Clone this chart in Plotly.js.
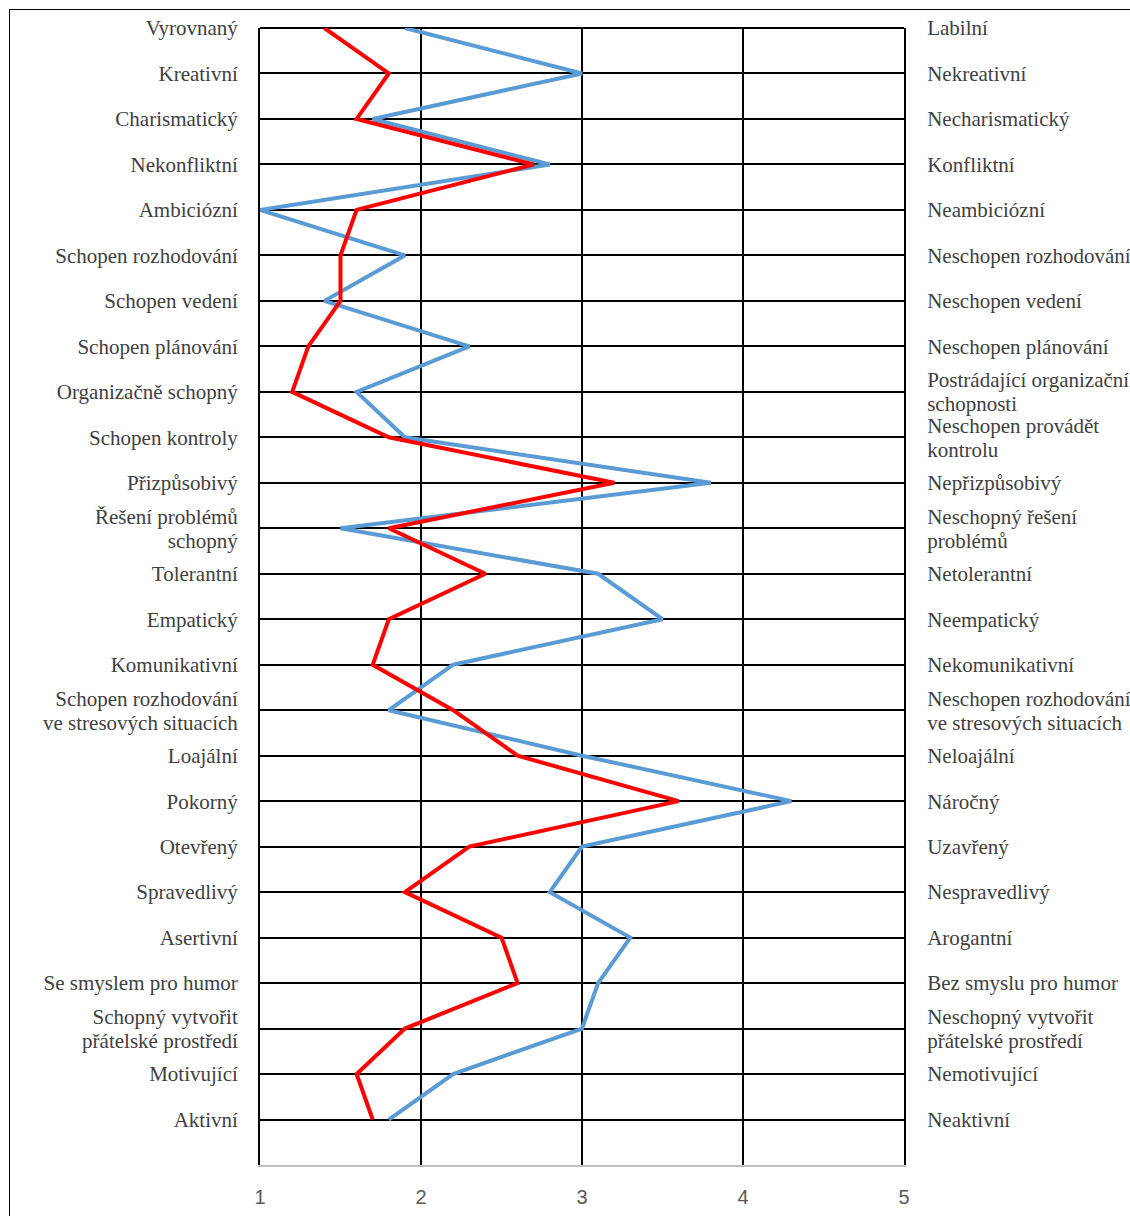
<!DOCTYPE html>
<html>
<head>
<meta charset="utf-8">
<script src="https://cdn.plot.ly/plotly-3.0.1.min.js"></script>
<style>
  html, body { margin: 0; padding: 0; width: 1130px; height: 1216px; overflow: hidden; background: #fff; }
  #frame { position: absolute; left: 9px; top: 9px; width: 1300px; height: 1400px; border: 1.5px solid #000; box-sizing: border-box; }
  #chart { position: absolute; left: 0; top: 0; width: 1130px; height: 1216px; }
</style>
</head>
<body>
<div id="frame"></div>
<div id="chart"></div>
<script>
const labelsLeft = ["Vyrovnaný","Kreativní","Charismatický","Nekonfliktní","Ambiciózní","Schopen rozhodování","Schopen vedení","Schopen plánování","Organizačně schopný","Schopen kontroly","Přizpůsobivý","Řešení problémů<br>schopný","Tolerantní","Empatický","Komunikativní","Schopen rozhodování<br>ve stresových situacích","Loajální","Pokorný","Otevřený","Spravedlivý","Asertivní","Se smyslem pro humor","Schopný vytvořit<br>přátelské prostředí","Motivující","Aktivní"];
const labelsRight = ["Labilní","Nekreativní","Necharismatický","Konfliktní","Neambiciózní","Neschopen rozhodování","Neschopen vedení","Neschopen plánování","Postrádající organizační<br>schopnosti","Neschopen provádět<br>kontrolu","Nepřizpůsobivý","Neschopný řešení<br>problémů","Netolerantní","Neempatický","Nekomunikativní","Neschopen rozhodování<br>ve stresových situacích","Neloajální","Náročný","Uzavřený","Nespravedlivý","Arogantní","Bez smyslu pro humor","Neschopný vytvořit<br>přátelské prostředí","Nemotivující","Neaktivní"];
const redValues  = [1.4,1.8,1.6,2.7,1.6,1.5,1.5,1.3,1.2,1.8,3.2,1.8,2.4,1.8,1.7,2.2,2.6,3.6,2.3,1.9,2.5,2.6,1.9,1.6,1.7];
const blueValues = [1.9,3.0,1.7,2.8,1.0,1.9,1.4,2.3,1.6,1.9,3.8,1.5,3.1,3.5,2.2,1.8,3.0,4.3,3.0,2.8,3.3,3.1,3.0,2.2,1.8];
const xTicks = [1,2,3,4,5];

const rowIdx = labelsLeft.map((_, i) => i);

const traces = [
  { x: blueValues, y: rowIdx, type: 'scatter', mode: 'lines',
    line: { color: '#5B9BD5', width: 4 }, hoverinfo: 'skip', showlegend: false },
  { x: redValues, y: rowIdx, type: 'scatter', mode: 'lines',
    line: { color: '#FF0000', width: 4 }, hoverinfo: 'skip', showlegend: false },
  // invisible carrier so the right-hand axis (opposite pole labels) is drawn
  { x: redValues, y: rowIdx, yaxis: 'y2', type: 'scatter', mode: 'lines',
    line: { color: 'rgba(0,0,0,0)', width: 0 }, hoverinfo: 'skip', showlegend: false }
];

const labelFont = { family: 'Liberation Serif, Times New Roman, serif', size: 21, color: '#404040' };

const layout = {
  width: 1130, height: 1216,
  margin: { l: 260, r: 226, t: 28, b: 51, pad: 0 },
  paper_bgcolor: 'rgba(0,0,0,0)',
  plot_bgcolor: 'rgba(0,0,0,0)',
  showlegend: false,
  xaxis: {
    range: [1, 5], tickmode: 'array', tickvals: xTicks, ticktext: xTicks.map(String),
    showgrid: true, gridcolor: '#000', gridwidth: 2,
    zeroline: false, showline: true, linecolor: '#BFBFBF', linewidth: 2,
    ticks: 'outside', ticklen: 13, tickcolor: 'rgba(0,0,0,0)',
    tickfont: { family: 'Liberation Sans, Arial, sans-serif', size: 20, color: '#595959' },
    fixedrange: true
  },
  yaxis: {
    range: [25, 0], tickmode: 'array', tickvals: rowIdx, ticktext: labelsLeft,
    showgrid: true, gridcolor: '#000', gridwidth: 2,
    zeroline: false, showline: true, linecolor: '#000', linewidth: 2, mirror: true,
    ticks: 'outside', ticklen: 16, tickcolor: 'rgba(0,0,0,0)',
    tickfont: labelFont, fixedrange: true
  },
  yaxis2: {
    overlaying: 'y', side: 'right', anchor: 'x',
    range: [25, 0], tickmode: 'array', tickvals: rowIdx, ticktext: labelsRight,
    showgrid: false, zeroline: false, showline: false,
    ticks: 'outside', ticklen: 18, tickcolor: 'rgba(0,0,0,0)',
    tickfont: labelFont, fixedrange: true
  },
  shapes: [
    { type: 'line', xref: 'paper', yref: 'paper', x0: 0, x1: 1, y0: 1, y1: 1,
      line: { color: '#000', width: 2 }, layer: 'below' }
  ]
};

// Tighten the line spacing of two-line category labels (Word-like ~24px leading)
function tightenLines(gd) {
  const LEAD = 24;
  gd.querySelectorAll('g.ytick text, g.y2tick text').forEach(t => {
    const lines = t.querySelectorAll('tspan.line');
    if (lines.length < 2) return;
    const fs = parseFloat(getComputedStyle(t).fontSize) || 21;
    const toPx = v => {
      if (!v) return 0;
      return /em$/.test(v) ? parseFloat(v) * fs : parseFloat(v);
    };
    const y0 = lines[0].getBBox().y;
    const y1 = lines[1].getBBox().y;
    const gap = y1 - y0;
    const s = (gap - LEAD) / 2;
    lines[0].setAttribute('dy', (toPx(lines[0].getAttribute('dy')) + s) + 'px');
    const y1b = lines[1].getBBox().y;
    const target1 = y1 - s;
    lines[1].setAttribute('dy', (toPx(lines[1].getAttribute('dy')) + (target1 - y1b)) + 'px');
  });
}

Plotly.newPlot('chart', traces, layout, { staticPlot: true, displayModeBar: false })
  .then(gd => tightenLines(gd));
</script>
</body>
</html>
